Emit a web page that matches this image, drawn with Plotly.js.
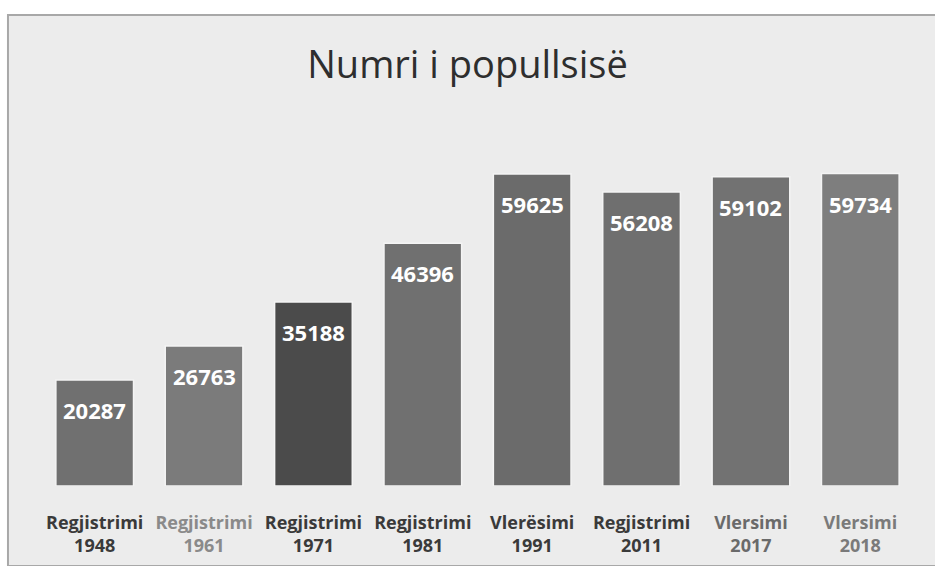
<!DOCTYPE html>
<html><head><meta charset="utf-8">
<script src="https://cdn.plot.ly/plotly-3.0.1.min.js"></script>
<style>html,body{margin:0;padding:0;background:#fff}#c{width:935px;height:566px}</style>
</head><body><div id="c"></div>
<script>
const labelTypes = ["Regjistrimi","Regjistrimi","Regjistrimi","Regjistrimi","Vlerësimi","Regjistrimi","Vlersimi","Vlersimi"];
const years = ["1948","1961","1971","1981","1991","2011","2017","2018"];
const population = [20287, 26763, 35188, 46396, 59625, 56208, 59102, 59734];

const barColors = ["#707070","#7b7b7b","#4b4b4b","#707070","#6b6b6b","#6f6f6f","#727272","#7e7e7e"];
const labelColors = ["#3a3a3a","#8a8a8a","#3a3a3a","#3a3a3a","#3a3a3a","#3a3a3a","#6a6a6a","#7a7a7a"];

const cats = years.map((y,i)=>labelTypes[i]+" "+y);
const ticktext = years.map((y,i)=>'<span style="color:'+labelColors[i]+'">'+labelTypes[i]+'<br>'+y+'</span>');

const trace = {
  type:'bar', x:cats, y:population,
  textposition:'none',
  marker:{color:barColors, line:{color:'#f4f4f4', width:1.5}},
  hoverinfo:'skip'
};

const annotations = cats.map((c,i)=>({
  x:c, y:population[i], xref:'x', yref:'y', text:String(population[i]),
  showarrow:false, yanchor:'middle', yshift:-30,
  font:{family:'Open Sans, DejaVu Sans, sans-serif', size:22, color:'#ffffff', weight:'bold'}
}));

const layout = {
  width:935, height:566,
  margin:{l:40, r:20, t:146, b:80, pad:0},
  paper_bgcolor:'#ffffff', plot_bgcolor:'rgba(0,0,0,0)',
  bargap:0.29,
  showlegend:false,
  title:{text:'Numri i popullsisë', x:0.5, xanchor:'center', y:0.885, yanchor:'middle',
    font:{family:'Open Sans, sans-serif', size:38, color:'#2e2e2e'}},
  xaxis:{tickmode:'array', tickvals:cats, ticktext:ticktext, showgrid:false, zeroline:false,
    showline:false, ticks:'outside', ticklen:20, tickcolor:'rgba(0,0,0,0)',
    tickfont:{family:'Open Sans, sans-serif', size:18, color:'#3a3a3a', weight:'bold'}},
  yaxis:{range:[0,65000], visible:false, showgrid:false, zeroline:false},
  annotations:annotations,
  shapes:[
    {type:'rect', xref:'paper', yref:'paper', x0:-0.0366, x1:1.03, y0:-0.235, y1:1.385,
     fillcolor:'#ececec', line:{color:'#a8a8a8', width:2}, layer:'below'}
  ]
};
Plotly.newPlot('c',[trace],layout,{displayModeBar:false, staticPlot:true});
</script></body></html>
